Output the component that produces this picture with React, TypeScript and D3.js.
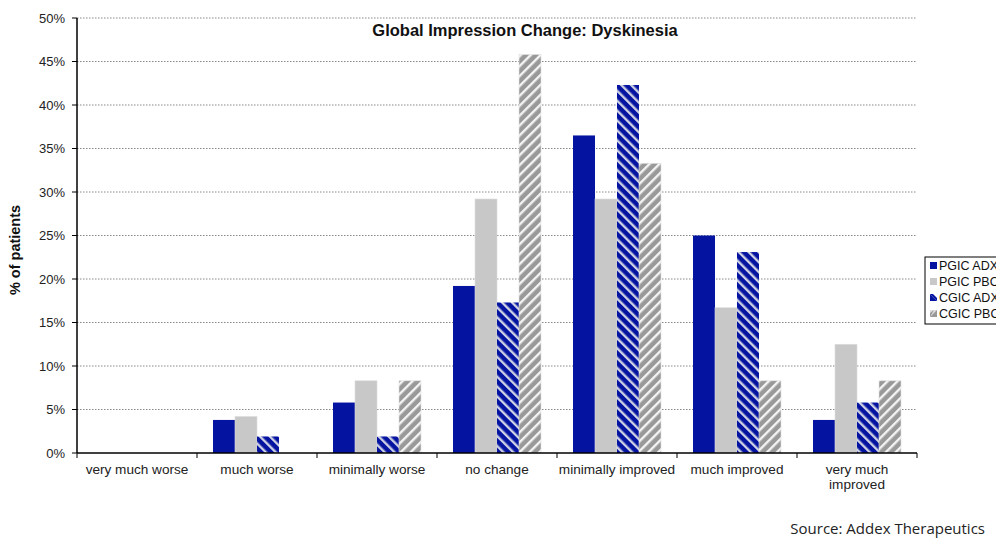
import React from "react";
import * as d3 from "d3";

const categories = ["very much worse", "much worse", "minimally worse", "no change", "minimally improved", "much improved", "very much improved"];
const seriesNames = ["PGIC ADX", "PGIC PBO", "CGIC ADX", "CGIC PBO"];
const pgicAdx = [0, 3.8, 5.8, 19.2, 36.5, 25.0, 3.8];
const pgicPbo = [0, 4.2, 8.3, 29.2, 29.2, 16.7, 12.5];
const cgicAdx = [0, 1.9, 1.9, 17.3, 42.3, 23.1, 5.8];
const cgicPbo = [0, 0, 8.3, 45.8, 33.3, 8.3, 8.3];
const yTicks = [0, 5, 10, 15, 20, 25, 30, 35, 40, 45, 50];

const series = [pgicAdx, pgicPbo, cgicAdx, cgicPbo];
const fills = ["#0414a0", "#c8c8c8", "url(#stripeBlue)", "url(#stripeGray)"];

export default function App() {
  const W = 996, H = 539;
  const left = 77, right = 917, top = 18, bottom = 453;
  const x = d3.scaleBand<string>().domain(categories).range([left, right]).paddingInner(0).paddingOuter(0);
  const y = d3.scaleLinear().domain([0, 50]).range([bottom, top]);
  const barW = 22;
  const font = "'Liberation Sans', Arial, sans-serif";

  return (
    <svg width={W} height={H} style={{ position: "absolute", left: 0, top: 0, background: "#fff" }} fontFamily={font}>
      <defs>
        <pattern id="stripeBlue" patternUnits="userSpaceOnUse" width="7" height="7" patternTransform="rotate(-45)">
          <rect width="7" height="7" fill="#0414a0" />
          <rect width="2.4" height="7" fill="#cfd2e4" />
        </pattern>
        <pattern id="stripeGray" patternUnits="userSpaceOnUse" width="7" height="7" patternTransform="rotate(45)">
          <rect width="7" height="7" fill="#999999" />
          <rect width="2.4" height="7" fill="#f4f4f4" />
        </pattern>
      </defs>
      <rect width={W} height={H} fill="#fff" />
      {yTicks.map((t) => (
        <g key={t}>
          {t > 0 && (
            <line x1={left} x2={right} y1={y(t)} y2={y(t)} stroke="#888" strokeWidth={1} strokeDasharray="1.5,1.5" />
          )}
          <line x1={left - 5} x2={left} y1={y(t)} y2={y(t)} stroke="#000" strokeWidth={1} />
          <text x={65} y={y(t) + 4.5} textAnchor="end" fontSize={13} fill="#222">{t}%</text>
        </g>
      ))}
      {categories.map((c, ci) => {
        const cx = (x(c) as number) + x.bandwidth() / 2;
        return (
          <g key={c}>
            {series.map((s, si) => {
              const v = s[ci];
              if (v <= 0) return null;
              const bx = cx - 2 * barW + si * barW;
              return (
                <rect key={si} x={bx} y={y(v)} width={barW} height={bottom - y(v)} fill={fills[si]}
                  stroke={si === 1 ? "#dedede" : si === 3 ? "#e0e0e0" : "none"} strokeWidth={0.6} />
              );
            })}
          </g>
        );
      })}
      <line x1={left} x2={left} y1={top} y2={bottom} stroke="#000" strokeWidth={1.5} />
      <line x1={left} x2={right} y1={bottom} y2={bottom} stroke="#000" strokeWidth={1.5} />
      {categories.map((c, ci) => {
        const tx = (x(c) as number) + x.bandwidth();
        return <line key={"t" + ci} x1={tx} x2={tx} y1={bottom} y2={bottom + 5} stroke="#000" strokeWidth={1} />;
      })}
      <line x1={left} x2={left} y1={bottom} y2={bottom + 5} stroke="#000" strokeWidth={1} />
      {categories.map((c) => {
        const cx = (x(c) as number) + x.bandwidth() / 2;
        const lines = c === "very much improved" ? ["very much", "improved"] : [c];
        return (
          <text key={"l" + c} x={cx} y={474} textAnchor="middle" fontSize={13.6} fill="#222">
            {lines.map((l, i) => (
              <tspan key={i} x={cx} dy={i === 0 ? 0 : 15}>{l}</tspan>
            ))}
          </text>
        );
      })}
      <text x={525} y={36} textAnchor="middle" fontSize={16.5} fontWeight="bold" fill="#111">Global Impression Change: Dyskinesia</text>
      <text transform={`translate(20,250) rotate(-90)`} textAnchor="middle" fontSize={14.5} fontWeight="bold" fill="#111">% of patients</text>
      <g>
        <rect x={925} y={257} width={90} height={67} fill="#fff" stroke="#000" strokeWidth={1} />
        {seriesNames.map((n, i) => {
          const ly = 266 + i * 16;
          return (
            <g key={n}>
              {i === 2 ? (
                <g>
                  <rect x={930} y={ly - 4} width={7} height={7} fill="#fff" />
                  <polygon points={`${930},${ly - 4} ${937},${ly + 3} ${930},${ly + 3}`} fill="#0414a0" />
                  <polygon points={`${930},${ly - 4} ${933},${ly - 4} ${937},${ly} ${937},${ly + 3}`} fill="#0414a0" />
                </g>
              ) : i === 3 ? (
                <g>
                  <rect x={930} y={ly - 4} width={7} height={7} fill="#ddd" />
                  <polygon points={`${930},${ly + 3} ${937},${ly - 4} ${937},${ly + 3}`} fill="#999" />
                  <polygon points={`${930},${ly + 3} ${930},${ly - 1} ${934},${ly - 4}`} fill="#999" />
                </g>
              ) : (
                <rect x={930} y={ly - 4} width={7} height={7} fill={i === 0 ? "#0414a0" : "#c8c8c8"} />
              )}
              <text x={939} y={ly + 4} fontSize={12.5} fill="#111">{n}</text>
            </g>
          );
        })}
      </g>
      <text x={985} y={534} textAnchor="end" fontSize={15} fontFamily="'Open Sans', 'Noto Sans', sans-serif" fill="#222">Source: Addex Therapeutics</text>
    </svg>
  );
}
